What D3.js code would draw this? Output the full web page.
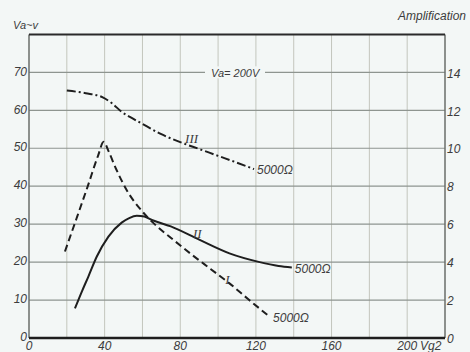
<!DOCTYPE html>
<html>
<head>
<meta charset="utf-8">
<script src="https://cdn.jsdelivr.net/npm/d3@7"></script>
<style>
  html, body { margin: 0; padding: 0; background: #f3f7f6; }
  svg { display: block; }
  text { font-family: "Liberation Sans", Arial, sans-serif; font-style: italic; fill: #3c3c3c; }
  .roman { font-family: "Liberation Serif", serif; }
</style>
</head>
<body>
<svg id="chart"></svg>
<script>
// chart values
const curveIX = [19, 25, 31, 36.5, 39.5, 42, 46, 52, 60, 66, 76, 86, 96, 106, 116, 127.5];
const curveIY = [22.8, 31.3, 39.9, 48, 51.7, 49.3, 44.6, 38.7, 33.3, 30.2, 26, 22, 18.2, 14.4, 10.2, 5.5];
const curveIIX = [24.3, 28, 31.4, 35.8, 42, 49, 53, 57, 61, 65, 75, 90, 106, 122, 132, 139];
const curveIIY = [7.8, 12.3, 16.2, 21.4, 26.7, 30.4, 31.6, 32.2, 32, 31.1, 29.4, 25.9, 22.3, 20, 19, 18.6];
const curveIIIX = [20, 30, 39, 44, 49, 55, 60, 70, 80, 90, 100, 110, 119];
const curveIIIY = [65.2, 64.5, 63.4, 61.8, 59.6, 57.8, 56.4, 53.7, 51.6, 49.8, 48, 46.2, 44.5];

const xTickLabels = [0, 40, 80, 120, 160, 200];
const xGrid = [20, 40, 60, 80, 100, 120, 140, 160, 180, 200];
const yTickLabels = [0, 10, 20, 30, 40, 50, 60, 70];
const ampTickLabels = [0, 2, 4, 6, 8, 10, 12, 14];
const curveLabels = ['I', 'II', 'III'];
const loadLabel = '5000Ω';

const width = 470;
const height = 352;
const plot = { left: 29, right: 445, top: 34.4, bottom: 338 };

const svg = d3.select('#chart')
  .attr('width', width)
  .attr('height', height);

const x = d3.scaleLinear().domain([0, 220]).range([plot.left, plot.right]);
const y = d3.scaleLinear().domain([0, 80]).range([plot.bottom, plot.top]);
const yAmp = d3.scaleLinear().domain([0, 16]).range([plot.bottom, plot.top]);

// grid: faint verticals, stronger horizontals
svg.append('g')
  .selectAll('line')
  .data(xGrid)
  .enter()
  .append('line')
  .attr('x1', d => x(d)).attr('x2', d => x(d))
  .attr('y1', plot.top).attr('y2', plot.bottom)
  .attr('stroke', '#c3c6bd')
  .attr('stroke-width', 1);

svg.append('g')
  .selectAll('line')
  .data(yTickLabels.filter(d => d > 0))
  .enter()
  .append('line')
  .attr('x1', plot.left).attr('x2', plot.right)
  .attr('y1', d => y(d)).attr('y2', d => y(d))
  .attr('stroke', '#8e9590')
  .attr('stroke-width', 1.2);

// frame
svg.append('line').attr('x1', plot.left).attr('x2', plot.left)
  .attr('y1', plot.top).attr('y2', plot.bottom)
  .attr('stroke', '#6a6e6a').attr('stroke-width', 1.5);
svg.append('line').attr('x1', plot.right).attr('x2', plot.right)
  .attr('y1', plot.top).attr('y2', plot.bottom)
  .attr('stroke', '#6a6e6a').attr('stroke-width', 1.5);
svg.append('line').attr('x1', plot.left).attr('x2', plot.right)
  .attr('y1', plot.top).attr('y2', plot.top)
  .attr('stroke', '#2a2a2a').attr('stroke-width', 2);
svg.append('line').attr('x1', plot.left).attr('x2', plot.right)
  .attr('y1', plot.bottom).attr('y2', plot.bottom)
  .attr('stroke', '#1e1e1e').attr('stroke-width', 2.5);

// tick labels
svg.append('g')
  .selectAll('text')
  .data(yTickLabels)
  .enter()
  .append('text')
  .attr('x', plot.left - 2)
  .attr('y', d => y(d) - 1)
  .attr('dy', '0.35em')
  .attr('text-anchor', 'end')
  .attr('font-size', 12)
  .text(d => d);

svg.append('g')
  .selectAll('text')
  .data(ampTickLabels)
  .enter()
  .append('text')
  .attr('x', plot.right + 2)
  .attr('y', d => yAmp(d) + 1)
  .attr('dy', '0.35em')
  .attr('font-size', 12)
  .text(d => d);

svg.append('g')
  .selectAll('text')
  .data(xTickLabels)
  .enter()
  .append('text')
  .attr('x', d => x(d))
  .attr('y', 350)
  .attr('text-anchor', 'middle')
  .attr('font-size', 12)
  .text(d => d);

svg.append('text').attr('x', 420).attr('y', 350).attr('font-size', 12).text('Vg2');
svg.append('text').attr('x', 13).attr('y', 29).attr('font-size', 11).text('Va~v');
svg.append('text').attr('x', 466).attr('y', 20).attr('text-anchor', 'end')
  .attr('font-size', 12).text('Amplification');

// "Va= 200V" sits on a gap of the 70 line
svg.append('rect')
  .attr('x', 205).attr('y', y(70) - 6).attr('width', 60).attr('height', 12)
  .attr('fill', '#f3f7f6');
svg.append('text').attr('x', 211).attr('y', y(70) + 1).attr('dy', '0.35em')
  .attr('font-size', 11).text('Va= 200V');

// curves
const line = d3.line()
  .x(d => x(d[0]))
  .y(d => y(d[1]))
  .curve(d3.curveMonotoneX);

const curves = [
  { xs: curveIX, ys: curveIY, dash: '7,4' },
  { xs: curveIIX, ys: curveIIY, dash: null },
  { xs: curveIIIX, ys: curveIIIY, dash: '9,3,2,3' }
];

curves.forEach((c) => {
  const pts = c.xs.map((v, i) => [v, c.ys[i]]);
  svg.append('path')
    .attr('d', line(pts))
    .attr('fill', 'none')
    .attr('stroke', '#1e1e1e')
    .attr('stroke-width', 2)
    .attr('stroke-dasharray', c.dash);
  // load resistance at the end of each curve
  const last = pts[pts.length - 1];
  svg.append('text')
    .attr('x', x(last[0]) + 3)
    .attr('y', y(last[1]) + 1)
    .attr('dy', '0.35em')
    .attr('font-size', 12)
    .text(loadLabel);
});

// roman numerals beside the curves
const romanPos = [[105, 15.5], [89, 27.5], [86, 52.5]];
svg.append('g')
  .selectAll('text')
  .data(curveLabels)
  .enter()
  .append('text')
  .attr('class', 'roman')
  .attr('x', (d, i) => x(romanPos[i][0]))
  .attr('y', (d, i) => y(romanPos[i][1]))
  .attr('dy', '0.35em')
  .attr('text-anchor', 'middle')
  .attr('font-size', 13)
  .text(d => d);
</script>
</body>
</html>
